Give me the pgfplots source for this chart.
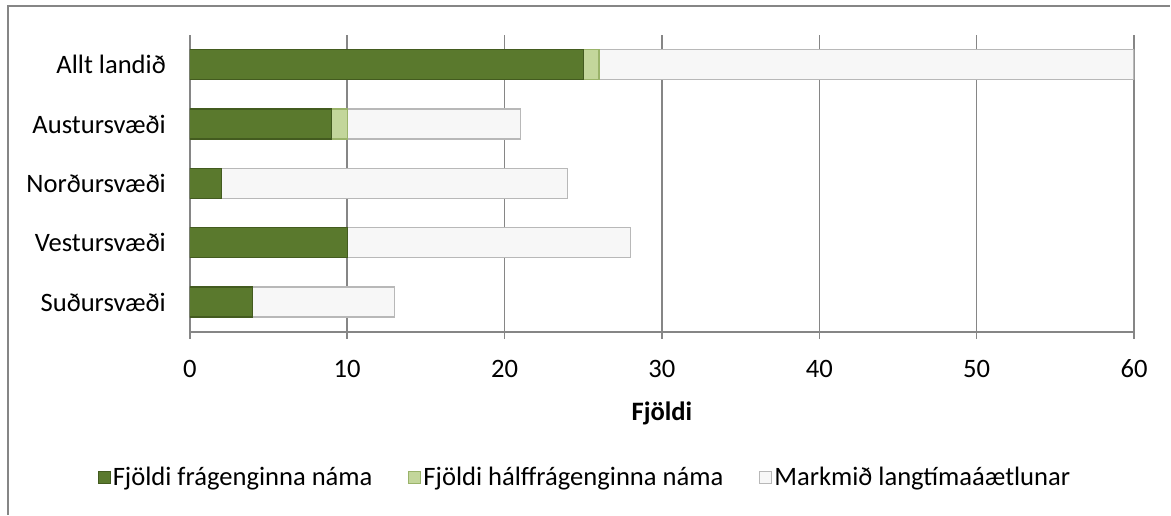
\documentclass[border=0pt]{standalone}
\usepackage{fontspec}
\setmainfont{Carlito}
\usepackage{pgfplots}
\pgfplotsset{compat=1.18}
\definecolor{gridgray}{HTML}{868686}
\definecolor{dgB}{HTML}{5A792D}
\definecolor{dgC}{HTML}{435B1F}
\definecolor{lgB}{HTML}{C3D69B}
\definecolor{lgC}{HTML}{9AB36A}
\definecolor{wB}{HTML}{F7F7F7}
\definecolor{wC}{HTML}{B8B8B8}
\begin{document}
\begin{tikzpicture}
\path (0,0) rectangle (585.5pt,257.5pt);
\draw[gridgray, line width=1pt] (4pt,0) -- (4pt,254.5pt) -- (585.5pt,254.5pt);
\begin{axis}[
  at={(95pt,91.5pt)}, anchor=south west,
  scale only axis, width=472.5pt, height=148.5pt,
  xbar stacked, bar width=15pt,
  xmin=0, xmax=60, ymin=-0.5, ymax=4.5,
  xtick={0,10,...,60},
  ytick={0,1,2,3,4},
  yticklabels={Suðursvæði,Vestursvæði,Norðursvæði,Austursvæði,Allt landið},
  axis x line*=bottom, axis y line*=left,
  axis line style={gridgray, line width=0.8pt},
  every axis plot/.append style={line width=0.6pt},
  xmajorgrids, grid style={gridgray, line width=0.75pt},
  tick align=outside, major tick length=3.5pt,
  xtick style={gridgray, line width=0.8pt},
  ytick style={draw=none},
  tick label style={font=\fontsize{13.3}{15}\selectfont, black},
  /pgf/number format/assume math mode=true,
  xticklabel style={yshift=-7pt},
  yticklabel style={xshift=-5pt},
  xlabel={\textbf{Fjöldi}},
  xlabel style={font=\fontsize{13.3}{15}\selectfont, at={(axis description cs:0.5,0)}, anchor=center, yshift=-41pt},
  legend columns=3,
  legend style={draw=none, fill=none, font=\fontsize{13.3}{15}\selectfont,
    at={(axis description cs:0.5,0)}, anchor=center, yshift=-73pt, xshift=-38.5pt,
    /tikz/every even column/.append style={column sep=17pt},
    /tikz/every odd column/.append style={column sep=0pt},
    nodes={inner xsep=1pt},
    inner sep=0pt},
  legend image code/.code={\draw[#1, line width=0.5pt] (0pt,-3pt) rectangle (6pt,3pt);},
  legend cell align=left,
]
\addplot[draw=dgC, fill=dgB] coordinates {(4,0) (10,1) (2,2) (9,3) (25,4)};
\addplot[draw=lgC, fill=lgB] coordinates {(0,0) (0,1) (0,2) (1,3) (1,4)};
\addplot[draw=wC, fill=wB] coordinates {(9,0) (18,1) (22,2) (11,3) (34,4)};
\legend{Fjöldi frágenginna náma, Fjöldi hálffrágenginna náma, Markmið langtímaáætlunar}
\end{axis}
\end{tikzpicture}
\end{document}
